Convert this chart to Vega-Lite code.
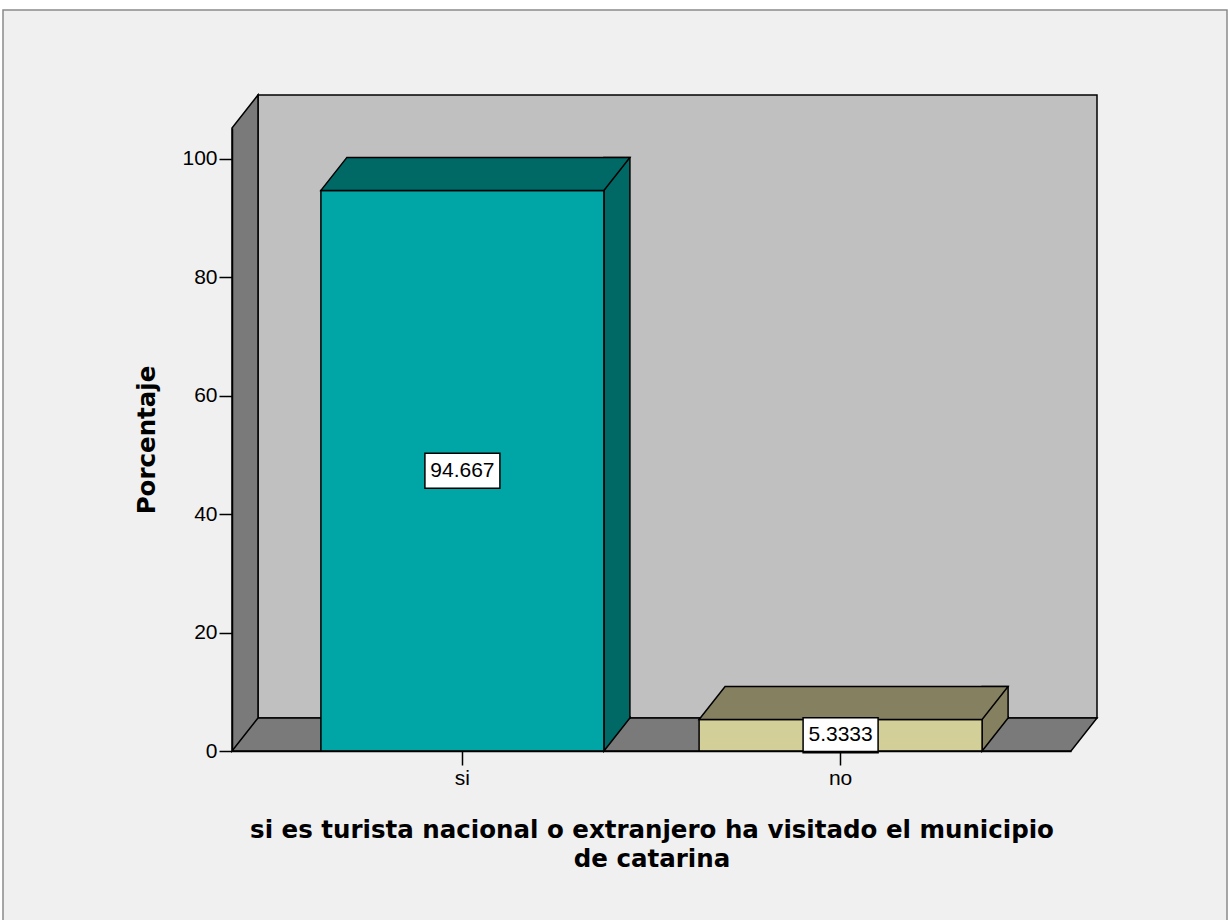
{
  "$schema": "https://vega.github.io/schema/vega-lite/v6.json",
  "width": 839,
  "height": 623,
  "autosize": "none",
  "padding": {"left": 232, "top": 128, "right": 157, "bottom": 169},
  "background": "white",
  "config": {
    "view": {"stroke": null},
    "font": "Liberation Sans",
    "axis": {
      "grid": false,
      "domainColor": "black",
      "domainWidth": 1.5,
      "tickColor": "black",
      "tickWidth": 1.5,
      "labelColor": "black",
      "labelFont": "Liberation Sans",
      "labelFontSize": 21,
      "titleColor": "black",
      "titleFont": "DejaVu Sans",
      "titleFontSize": 24.5,
      "titleFontWeight": "bold"
    }
  },
  "data": {
    "values": [
      {"visita": "si", "pct": 94.667},
      {"visita": "no", "pct": 5.3333}
    ]
  },
  "layer": [
    {
      "description": "frame, back wall, side wall and floor, drawn around the centre of the plot",
      "data": {"values": [{}]},
      "layer": [
        {
          "mark": {"type": "point", "shape": "M-648.5,-429.5H575.5V491.5H-648.5Z", "size": 4, "filled": true, "opacity": 1, "fill": "#f0f0f0", "stroke": "#8a8a8a", "strokeWidth": 1.5},
          "encoding": {}
        },
        {
          "mark": {"type": "point", "shape": "M-393.5,-344.5H445.5V278.5H-393.5Z", "size": 4, "filled": true, "opacity": 1, "fill": "#c0c0c0", "stroke": "black", "strokeWidth": 1.5},
          "encoding": {}
        },
        {
          "mark": {"type": "point", "shape": "M-419.5,311.5L-393.5,278.5V-344.5L-419.5,-311.5Z M-419.5,311.5L-393.5,278.5H445.5L419.5,311.5Z", "size": 4, "filled": true, "opacity": 1, "fill": "#7a7a7a", "stroke": "black", "strokeWidth": 1.5, "strokeJoin": "miter"},
          "encoding": {}
        }
      ]
    },
    {
      "description": "3-D bars",
      "encoding": {
        "x": {
          "field": "visita", "type": "nominal", "sort": ["si", "no"],
          "scale": {"type": "band", "domain": ["si", "no"], "paddingInner": 0.2517, "paddingOuter": 0.2351},
          "axis": {
            "zindex": 1,
            "title": ["si es turista nacional o extranjero ha visitado el municipio", "de catarina"],
            "titleLineHeight": 29,
            "titlePadding": 30,
            "labelAngle": 0,
            "labelPadding": 2,
            "tickSize": 14
          }
        },
        "y": {
          "field": "pct", "type": "quantitative",
          "scale": {"domain": [0, 105.2], "nice": false, "zero": true},
          "axis": {"zindex": 1, "title": "Porcentaje", "values": [0, 20, 40, 60, 80, 100], "tickSize": 13, "labelPadding": 2, "titlePadding": 22}
        }
      },
      "layer": [
        {
          "mark": {"type": "bar", "width": 26, "xOffset": 154.5, "yOffset": -33, "y2Offset": -33, "stroke": "black", "strokeWidth": 1.5},
          "encoding": {
            "y2": {"datum": 0},
            "fill": {"condition": {"test": "datum.visita === 'si'", "value": "#006865"}, "value": "#85805f"}
          }
        },
        {
          "mark": {"type": "point", "shape": "M167.5,-35V-33L141.5,0V-35", "size": 4, "filled": true, "opacity": 1, "stroke": "black", "strokeWidth": 1.5},
          "encoding": {
            "y": {
              "datum": 0, "type": "quantitative",
              "scale": {"domain": [0, 105.2], "nice": false, "zero": true},
              "axis": {"zindex": 1, "title": "Porcentaje", "values": [0, 20, 40, 60, 80, 100], "tickSize": 13, "labelPadding": 2, "titlePadding": 22}
            },
            "fill": {"condition": {"test": "datum.visita === 'si'", "value": "#006865"}, "value": "#85805f"}
          }
        },
        {
          "mark": {"type": "bar", "stroke": "black", "strokeWidth": 1.5},
          "encoding": {
            "y2": {"datum": 0},
            "fill": {"condition": {"test": "datum.visita === 'si'", "value": "#00a6a6"}, "value": "#d3cf98"}
          }
        },
        {
          "mark": {"type": "point", "shape": "M-141.5,0L-115.5,-33H167.5L141.5,0Z", "size": 4, "filled": true, "opacity": 1, "stroke": "black", "strokeWidth": 1.5, "strokeJoin": "miter"},
          "encoding": {
            "fill": {"condition": {"test": "datum.visita === 'si'", "value": "#006865"}, "value": "#85805f"}
          }
        }
      ]
    },
    {
      "description": "value labels, placed at half the bar height",
      "encoding": {
        "x": {"field": "visita", "type": "nominal", "sort": ["si", "no"], "scale": {"type": "band", "domain": ["si", "no"], "paddingInner": 0.2517, "paddingOuter": 0.2351}, "axis": null},
        "y": {"field": "pct", "type": "quantitative", "scale": {"domain": [0, 210.4], "nice": false}, "axis": null}
      },
      "layer": [
        {
          "mark": {"type": "point", "shape": "M-37.5,-17.5H37.5V17.5H-37.5Z", "size": 4, "filled": true, "opacity": 1, "fill": "white", "stroke": "black", "strokeWidth": 1.5}
        },
        {
          "mark": {"type": "text", "font": "Liberation Sans", "fontSize": 21, "fill": "black", "align": "center", "baseline": "middle"},
          "encoding": {"text": {"field": "pct", "type": "nominal"}}
        }
      ]
    }
  ],
  "resolve": {"scale": {"x": "independent", "y": "independent"}}
}
